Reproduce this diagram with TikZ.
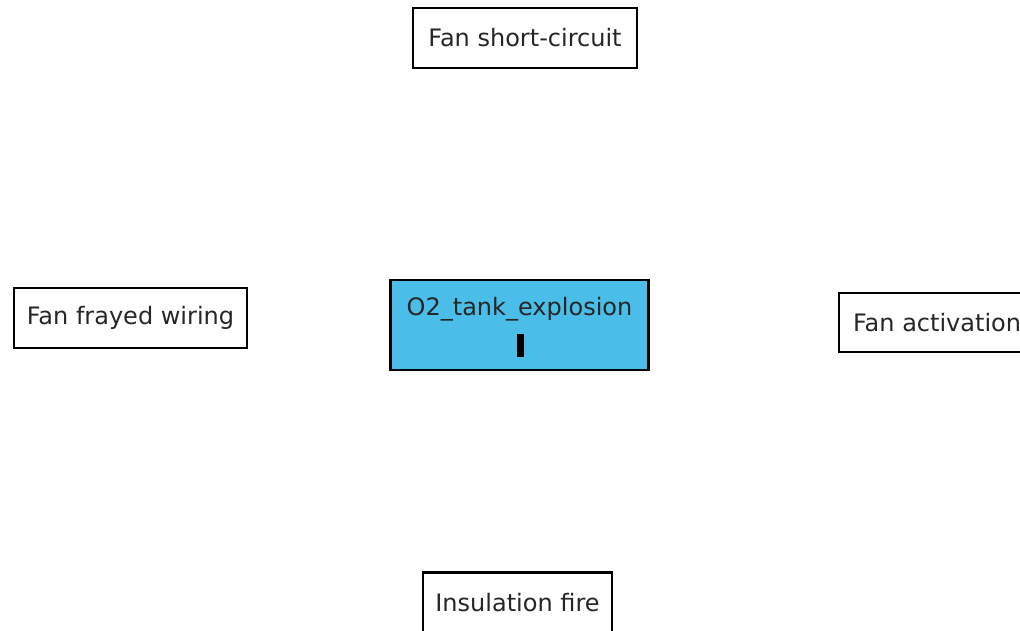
\documentclass[tikz,border=0pt]{standalone}
\usepackage{fontspec}
\setmainfont{DejaVu Sans}
\definecolor{boxblue}{RGB}{74,189,232}
\begin{document}
\begin{tikzpicture}[x=1pt,y=-1pt,
  evbox/.style={draw=black, line width=2.2pt, fill=white, inner sep=0pt,
    font=\fontsize{24}{28}\selectfont, text=black!85},
  topbox/.style={evbox, fill=boxblue}]
\useasboundingbox (0,0) rectangle (1020,631);
\clip (0,0) rectangle (1020,631);
\node[evbox, minimum width=224pt, minimum height=60pt] (sc) at (525,38) {Fan short-circuit};
\node[evbox, minimum width=233pt, minimum height=60pt] (fw) at (130.5,318) {Fan frayed wiring};
\node[topbox, minimum width=258pt, minimum height=90pt] (o2) at (519.5,325) {};
\node[font=\fontsize{24}{28}\selectfont, text=black!85, inner sep=0pt] (o2t) at (519.5,309) {O2\_tank\_explosion};
\node[fill=black, minimum width=7pt, minimum height=23pt, inner sep=0pt] (bar) at (520,345) {};
\node[evbox, minimum width=196pt, minimum height=59pt, anchor=west] (fa) at (838,322.5) {Fan activation};
\node[evbox, minimum width=189pt, minimum height=60pt] (inf) at (517.5,602.5) {Insulation fire};
\end{tikzpicture}
\end{document}
